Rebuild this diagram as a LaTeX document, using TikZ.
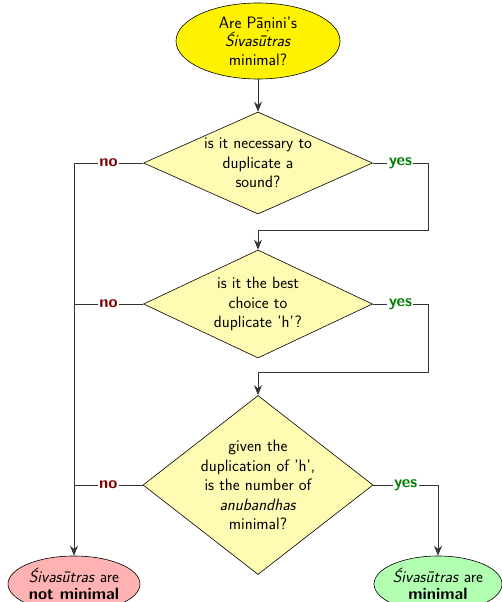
\documentclass[tikz,border=0pt]{standalone}
\usetikzlibrary{shapes.geometric,arrows.meta}
\begin{document}
\begin{tikzpicture}[x=1pt,y=-1pt,
  every node/.style={font=\sffamily\fontsize{16.5}{19.5}\selectfont},
  decision/.style={diamond,draw=black,line width=0.6pt,fill=yellow!30,
    inner sep=-25pt,align=center},
  terminal/.style={ellipse,draw=black,line width=0.6pt,inner sep=-10pt,align=center},
  link/.style={draw=black!80,line width=0.8pt},
  arr/.style={link,-{Stealth[length=10pt,width=8pt]}},
  nolabel/.style={fill=white,inner sep=1.5pt,font=\sffamily\bfseries\fontsize{16.5}{19.5}\selectfont,text=red!50!black},
  yeslabel/.style={fill=white,inner sep=1.5pt,font=\sffamily\bfseries\fontsize{16.5}{19.5}\selectfont,text=green!50!black}]
\useasboundingbox (0,0) rectangle (502,602);

% start
\node[terminal,fill=yellow,minimum width=164pt,minimum height=76pt] (start) at (258,41)
  {Are Pāṇini's\\[-1pt]\textit{Śivasūtras}\\[-1pt]minimal?};

% decisions
\node[decision,minimum width=229pt,minimum height=102pt] (d1) at (258,163)
  {is it necessary to\\duplicate a\\sound?};
\node[decision,minimum width=229pt,minimum height=108pt] (d2) at (258,304)
  {is it the best\\choice to\\duplicate 'h'?};
\node[decision,minimum width=230pt,minimum height=179pt] (d3) at (258,485)
  {given the\\duplication of 'h',\\is the number of\\\textit{anubandhas}\\minimal?};

% outcomes
\node[terminal,fill=red!30,minimum width=132pt,minimum height=56pt] (notmin) at (74,584)
  {\textit{Śivasūtras} are\\[-2pt]\textbf{not minimal}};
\node[terminal,fill=green!30,minimum width=128pt,minimum height=56pt] (ismin) at (438,584)
  {\textit{Śivasūtras} are\\[-2pt]\textbf{minimal}};

% bends of the "yes" routes
\coordinate (b1) at (428,230);
\coordinate (b2) at (428,372);

% connectors
\draw[arr] (start) -- (d1);

\draw[arr] (d1.west) -| node[nolabel,pos=0.25] {no} (notmin.north);
\draw[link] (d2.west) -- node[nolabel] {no} (d2.west -| notmin.north);
\draw[link] (d3.west) -- node[nolabel] {no} (d3.west -| notmin.north);

\draw[arr] (d1.east) -- node[yeslabel] {yes} (d1.east -| b1) -- (b1) -- (b1 -| d2.north) -- (d2.north);
\draw[arr] (d2.east) -- node[yeslabel] {yes} (d2.east -| b2) -- (b2) -- (b2 -| d3.north) -- (d3.north);
\draw[arr] (d3.east) -| node[yeslabel,pos=0.25] {yes} (ismin.north);
\end{tikzpicture}
\end{document}
